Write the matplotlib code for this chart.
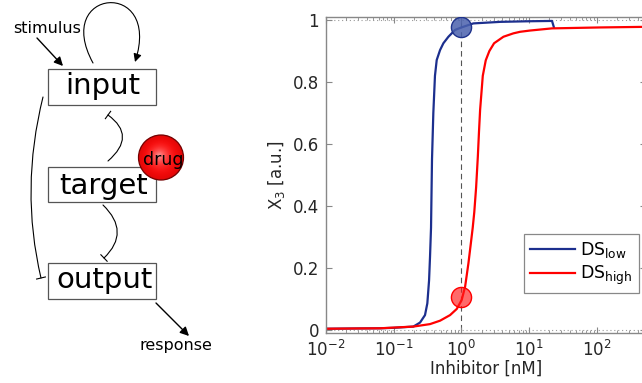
import matplotlib
matplotlib.use('Agg')
import matplotlib.pyplot as plt
import numpy as np
from matplotlib.patches import Rectangle, Circle, FancyArrowPatch
from matplotlib.path import Path

# ---------------- data ----------------
blue_x = [0.01, 0.03, 0.063, 0.1, 0.195, 0.245, 0.29, 0.314, 0.333, 0.344, 0.356,
          0.368, 0.385, 0.407, 0.432, 0.484, 0.542, 0.643, 0.807, 1.0, 1.5, 3.73,
          10.0, 21.8, 23.3]
blue_y = [0.004, 0.005, 0.0055, 0.007, 0.011, 0.024, 0.048, 0.086, 0.16, 0.236, 0.33,
          0.55, 0.70, 0.82, 0.871, 0.903, 0.925, 0.946, 0.968, 0.976, 0.989, 0.994,
          0.996, 0.997, 0.976]

red_x = [0.01, 0.03, 0.063, 0.195, 0.344, 0.484, 0.68, 0.855, 1.01, 1.135, 1.27,
         1.38, 1.47, 1.55, 1.65, 1.75, 1.82, 1.89, 2.07, 2.29, 2.59, 3.04, 4.18, 5.87,
         7.38, 10.3, 21.8, 111, 540]
red_y = [0.004, 0.005, 0.0055, 0.011, 0.019, 0.03, 0.048, 0.068, 0.097, 0.14, 0.215,
         0.28, 0.33, 0.38, 0.46, 0.56, 0.64, 0.71, 0.82, 0.87, 0.90, 0.925, 0.946,
         0.957, 0.962, 0.966, 0.973, 0.976, 0.978]

marker_x = [1.0, 1.0]
marker_y = [0.976, 0.107]

series_labels = [r'DS$_{\mathrm{low}}$', r'DS$_{\mathrm{high}}$']
y_ticks = [0, 0.2, 0.4, 0.6, 0.8, 1]
y_tick_labels = ['0', '0.2', '0.4', '0.6', '0.8', '1']
x_ticks = [1e-2, 1e-1, 1e0, 1e1, 1e2]
x_tick_labels = [r'$10^{-2}$', r'$10^{-1}$', r'$10^{0}$', r'$10^{1}$', r'$10^{2}$']

node_labels = ['input', 'target', 'output']
drug_label = 'drug'
stimulus_label = 'stimulus'
response_label = 'response'

# ---------------- style ----------------
plt.rcParams['font.family'] = ['DejaVu Sans']
plt.rcParams['mathtext.fontset'] = 'dejavusans'

fig = plt.figure(figsize=(6.42, 3.83), dpi=100)

# ---------------- left: diagram (pixel coordinates) ----------------
axd = fig.add_axes([0, 0, 230 / 642, 1])
axd.set_xlim(0, 230)
axd.set_ylim(383, 0)
axd.axis('off')

box_geo = [(48, 69, 108, 36, 102.5, 93.5),
           (48, 167, 108, 35, 103.5, 193.5),
           (48, 263, 108, 36, 105, 288.5)]
for name, (x0, y0, w, h, tx, ty) in zip(node_labels, box_geo):
    axd.add_patch(Rectangle((x0, y0), w, h, fill=False, ec='#555555', lw=0.9))
    axd.text(tx, ty, name, ha='center', va='baseline', fontsize=21, color='black')


def inhib(p0, c, p2):
    path = Path([p0, c, p2], [Path.MOVETO, Path.CURVE3, Path.CURVE3])
    axd.add_patch(FancyArrowPatch(path=path, arrowstyle='-', color='black', lw=0.8))
    d = np.array(p2, float) - np.array(c, float)
    d /= np.linalg.norm(d)
    n = np.array([-d[1], d[0]])
    a = np.array(p2) - 4.5 * n
    b = np.array(p2) + 4.5 * n
    axd.plot([a[0], b[0]], [a[1], b[1]], color='black', lw=0.8)


inhib((108, 161), (137, 136), (108, 115))
inhib((103, 205), (131, 232), (104, 258))
inhib((43, 97), (20, 189), (41, 278))

# self loop on input
loop = Path([(93, 63), (52, -12), (162, -22), (135, 62)],
            [Path.MOVETO, Path.CURVE4, Path.CURVE4, Path.CURVE4])
axd.add_patch(FancyArrowPatch(path=loop, arrowstyle='-|>', mutation_scale=12,
                              color='black', lw=0.8))

# stimulus / response arrows
axd.add_patch(FancyArrowPatch((37, 38), (63, 66), arrowstyle='-|>', mutation_scale=13,
                              color='black', lw=1.0, shrinkA=0, shrinkB=0))
axd.add_patch(FancyArrowPatch((156, 303), (189, 336), arrowstyle='-|>', mutation_scale=13,
                              color='black', lw=1.0, shrinkA=0, shrinkB=0))
axd.text(47, 33, stimulus_label, ha='center', va='baseline', fontsize=11.5)
axd.text(175.5, 350, response_label, ha='center', va='baseline', fontsize=11.5)

# drug ball with radial gradient
cx, cy, R = 161, 157.5, 22.5
nring = 40
for i in range(nring):
    f = i / (nring - 1)
    r = R * (1 - f)
    g = 0.03 + 0.6 * f ** 2.5
    axd.add_patch(Circle((cx - 2 * f, cy - 2 * f), r, color=(1.0 - 0.12 * (1 - f) ** 3, g, g),
                         lw=0, zorder=3))
axd.add_patch(Circle((cx, cy), R, fill=False, ec=(0.45, 0.0, 0.0), lw=0.9, zorder=4))
axd.text(163, 165, drug_label, ha='center', va='baseline', fontsize=12.5, zorder=5)

# ---------------- right: dose response ----------------
ax = fig.add_axes([326 / 642, 50 / 383, 320 / 642, 316 / 383])
ax.set_xscale('log')
ax.set_xlim(1e-2, 10 ** 2.727)
ax.set_ylim(-0.0097, 1.0097)

ax.axhline(0, ls=(0, (1, 2.5)), color='#9a9a9a', lw=0.8, zorder=1)
ax.axhline(1, ls=(0, (1, 2.5)), color='#9a9a9a', lw=0.8, zorder=1)
ax.plot([1, 1], [0, 1], ls=(0, (5, 3.5)), color='#555555', lw=0.8, zorder=1.5)

blue = '#1c2f8e'
red = '#ff0000'
ax.plot(blue_x, blue_y, color=blue, lw=1.6, label=series_labels[0], zorder=2,
        solid_joinstyle='round')
ax.plot(red_x, red_y, color=red, lw=1.6, label=series_labels[1], zorder=2.1,
        solid_joinstyle='round')

ax.plot(marker_x[0], marker_y[0], 'o', ms=14.5, mfc=(0.29, 0.38, 0.68, 0.85),
        mec=(0.12, 0.2, 0.55), mew=1.0, zorder=3)
ax.plot(marker_x[1], marker_y[1], 'o', ms=14.5, mfc=(1.0, 0.1, 0.1, 0.65),
        mec=(1.0, 0.0, 0.0), mew=1.0, zorder=3)

ax.set_yticks(y_ticks)
ax.set_yticklabels(y_tick_labels)
ax.set_xticks(x_ticks)
ax.set_xticklabels(x_tick_labels)
ax.tick_params(which='both', direction='in', top=True, right=True,
               colors='#888888', labelcolor='#262626', labelsize=12, pad=5)
ax.tick_params(which='major', length=4, width=0.8)
ax.tick_params(which='minor', length=2, width=0.6)
for s in ax.spines.values():
    s.set_color('#888888')
    s.set_linewidth(1.0)

ax.set_xlabel('Inhibitor [nM]', fontsize=12, color='#262626', labelpad=0)
ax.set_ylabel(r'X$_3$ [a.u.]', fontsize=12, color='#262626', labelpad=4)

leg = ax.legend(loc='upper left', bbox_to_anchor=(524 / 642, 1 - 234 / 383),
                bbox_transform=fig.transFigure, borderaxespad=0, fontsize=12.5,
                frameon=True, fancybox=False, framealpha=1, edgecolor='#888888',
                handlelength=2.6, handletextpad=0.3, labelspacing=0.2, borderpad=0.35)
leg.get_frame().set_linewidth(0.9)

fig.savefig('out.png', dpi=100)
